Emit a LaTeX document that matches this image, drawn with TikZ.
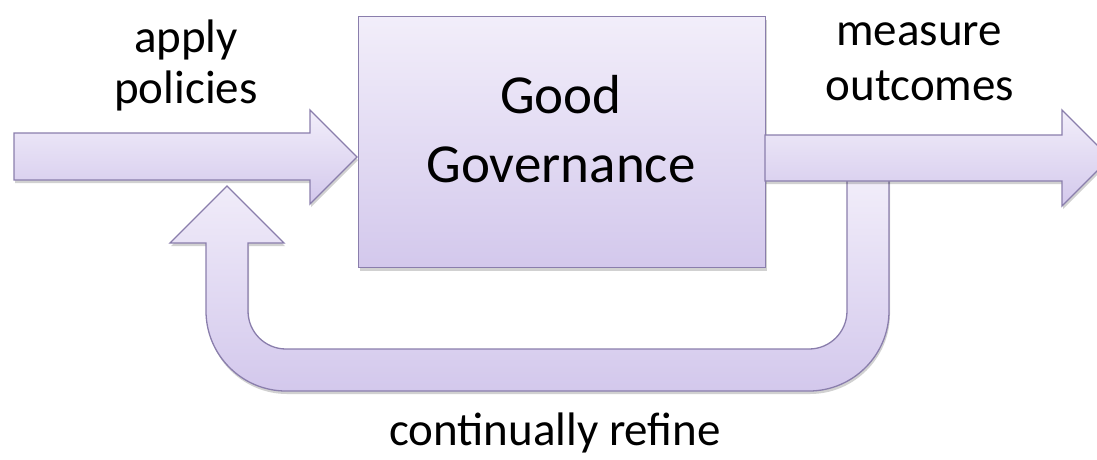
\documentclass[tikz,border=0pt]{standalone}
\usepackage{fontspec}
\setmainfont{Carlito}
\usetikzlibrary{shadows}
\definecolor{edge}{RGB}{138,126,172}
\definecolor{filltop}{RGB}{242,238,250}
\definecolor{fillbot}{RGB}{211,200,236}
\begin{document}
\begin{tikzpicture}[x=1pt,y=-1pt,
  solid/.style={draw=edge,line width=1.3pt,line join=miter,
    top color=filltop,bottom color=fillbot,
    drop shadow={shadow xshift=1pt,shadow yshift=-3pt,opacity=0.18,fill=black}},
  lbl/.style={anchor=base,inner sep=0pt,font=\fontsize{47}{56}\selectfont},
  boxtext/.style={anchor=base,inner sep=0pt,font=\fontsize{55}{66}\selectfont}]
\useasboundingbox (0,0) rectangle (1097,459);
\clip (0,0) rectangle (1097,459);

% feedback loop, running from the output back to the input
\path[solid] (889,175) -- (889,311)
  .. controls (889,355) and (853,391) .. (809,391)
  -- (286,391)
  .. controls (242,391) and (206,355) .. (206,311)
  -- (206,243) -- (170,243) -- (227,186) coordinate (looptip)
  -- (284,243) -- (248,243) -- (248,311)
  .. controls (248,332) and (265,349) .. (286,349)
  -- (809,349)
  .. controls (830,349) and (847,332) .. (847,311)
  -- (847,175) -- cycle;

% input arrow
\path[solid] (14,133) -- (310,133) -- (310,110) -- (357,157) coordinate (intip)
  -- (310,204) -- (310,180) -- (14,180) -- cycle;

% central block
\node[solid,minimum width=407pt,minimum height=251pt,inner sep=0pt,anchor=north west]
  (gov) at (358,16) {};
\node[boxtext] (good) at (561,113) {Good};
\node[boxtext] (governance) at (561,182) {Governance};

% output arrow
\path[solid] (765,135) -- (1062,135) -- (1062,110) -- (1110,158) coordinate (outtip)
  -- (1062,206) -- (1062,181) -- (765,181) -- cycle;

% labels
\node[lbl] (apply) at (186,52) {apply};
\node[lbl] (policies) at (186,103) {policies};
\node[lbl] (measure) at (919,45) {measure};
\node[lbl] (outcomes) at (920,100) {outcomes};
\node[lbl] (refine) at (555,445) {continually refine};
\end{tikzpicture}
\end{document}
